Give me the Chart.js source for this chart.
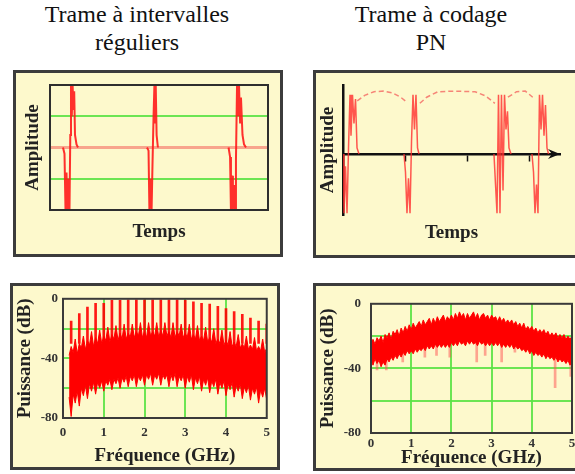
<!DOCTYPE html>
<html>
<head>
<meta charset="utf-8">
<script src="https://cdn.jsdelivr.net/npm/chart.js@4/dist/chart.umd.min.js"></script>
<style>
html, body { margin: 0; padding: 0; background: #fff; width: 575px; height: 474px; overflow: hidden; position: relative; }
.title { position: absolute; width: 260px; text-align: center; font-family: "Liberation Serif", "Times New Roman", "DejaVu Serif", serif; font-size: 24px; line-height: 28px; color: #111; }
.panel { position: absolute; box-sizing: border-box; background: #fdf9cc; border: 3px solid #3c3c3c; }
.panel canvas { position: absolute; left: 0; top: 0; }
</style>
</head>
<body>
<div class="title" style="left:7px; top:0px;">Trame à intervalles<br>réguliers</div>
<div class="title" style="left:301px; top:0px;">Trame à codage<br>PN</div>

<div class="panel" style="left:13px; top:70px; width:270px; height:187px;"><canvas id="tl" width="264" height="181"></canvas></div>
<div class="panel" style="left:313px; top:70px; width:306px; height:188px;"><canvas id="tr" width="300" height="182"></canvas></div>
<div class="panel" style="left:10px; top:283px; width:270px; height:187px;"><canvas id="bl" width="264" height="181"></canvas></div>
<div class="panel" style="left:313px; top:283px; width:306px; height:188px;"><canvas id="br" width="300" height="182"></canvas></div>

<script>
// ---- top left : regular pulse train (time domain) ----
var timeTL = [5.96, 6.65, 7.11, 7.57, 8.03, 8.49, 8.94, 9.31, 9.63, 10.0, 10.37, 10.73, 11.1, 11.47, 12.16, 12.84, 30,
  44.5, 45.2, 45.6, 46.1, 46.6, 47.0, 47.5, 47.9, 48.2, 48.5, 48.9, 49.5, 70,
  81.9, 82.6, 83.0, 83.5, 83.9, 84.4, 84.9, 85.3, 85.8, 86.2, 86.7, 87.2, 87.6, 88.3, 89.0, 89.9];
var ampTL = [0, -0.1, -1.0, -0.4, -1.0, -0.5, -1.0, 0.2, 1.0, 0.5, 1.0, 0.6, 0.9, 0.2, 0.05, 0, null,
  0, -0.05, -1.0, -0.5, -1.0, -0.3, 0.5, 1.0, 0.4, 1.0, 0.2, 0, null,
  0, -0.15, -1.0, -0.45, -1.0, -0.6, -1.0, -0.2, 1.0, 0.5, 1.0, 0.4, 0.8, 0.2, 0.05, 0];
var baseTimeTL = [0, 100];
var baseAmpTL = [0, 0];

// ---- top right : PN coded pulse train ----
var timeTR = [0, 0.016, 0.040, 0.065, 0.089, 0.113, 0.129, 0.153, 0.177, 0.202, 0.226, 0.258, 0.6,
  0.984, 1.008, 1.032, 1.056, 1.081, 1.105, 1.129, 1.153, 1.177, 1.202, 1.226, 1.8,
  2.435, 2.460, 2.484, 2.508, 2.532, 2.556, 2.581, 2.605, 2.629, 2.653, 2.677, 2.710, 2.9,
  3.048, 3.073, 3.097, 3.121, 3.145, 3.169, 3.194, 3.218, 3.242, 3.266, 3.290, 3.315];
var ampTR = [0, -0.97, -0.2, -0.97, 0.1, 0.97, 0.3, 0.97, 0.5, 0.9, 0.1, 0, null,
  0, -0.3, -0.97, -0.4, -0.97, 0.2, 0.97, 0.4, 0.97, 0.1, 0, null,
  0, -0.5, -0.97, 0.97, -0.97, 0.97, -0.6, 0.97, 0.4, 0.7, 0.1, 0, null,
  0, -0.3, -0.97, -0.5, -0.97, 0.97, 0.4, 0.97, 0.3, 0.8, 0.1, 0];
var arcTimeTR = [0.23, 0.35, 0.5, 0.65, 0.8, 0.93, 1.03, 1.1, 1.24, 1.35, 1.53, 1.8, 2.13, 2.3, 2.45, 2.55, 2.66, 2.8, 2.94, 3.06];
var arcAmpTR = [0.87, 0.96, 1.02, 1.03, 1.0, 0.93, 0.85, null, 0.83, 0.93, 1.02, 1.03, 1.02, 0.95, 0.83, null, 0.93, 1.02, 1.03, 0.93];
var timeTicksTR = [1, 2, 3];

// ---- bottom left : spectrum of regular train (GHz / dB) ----
var freqBL = [0.15, 0.2, 0.25, 0.3, 0.35, 0.4, 0.45, 0.5, 0.55, 0.6, 0.65, 0.7, 0.75, 0.8, 0.85, 0.9, 0.95,
  1.0, 1.05, 1.1, 1.15, 1.2, 1.25, 1.3, 1.35, 1.4, 1.45, 1.5, 1.55, 1.6, 1.65, 1.7, 1.75, 1.8, 1.85, 1.9, 1.95,
  2.0, 2.05, 2.1, 2.15, 2.2, 2.25, 2.3, 2.35, 2.4, 2.45, 2.5, 2.55, 2.6, 2.65, 2.7, 2.75, 2.8, 2.85, 2.9, 2.95,
  3.0, 3.05, 3.1, 3.15, 3.2, 3.25, 3.3, 3.35, 3.4, 3.45, 3.5, 3.55, 3.6, 3.65, 3.7, 3.75, 3.8, 3.85, 3.9, 3.95,
  4.0, 4.05, 4.1, 4.15, 4.2, 4.25, 4.3, 4.35, 4.4, 4.45, 4.5, 4.55, 4.6, 4.65, 4.7, 4.75, 4.8, 4.85, 4.9, 4.95, 5.0];
var topBL = [-38,
  -32, -36, -27, -37,  -30, -33, -25, -34,  -28, -31, -22, -32,  -26, -30, -21, -30,
  -25, -28, -19, -29,  -24, -27, -18, -28,  -23, -27, -17, -27,  -23, -26, -17, -26,  -22, -25, -16, -26,
  -22, -26, -16, -25,  -22, -25, -16, -26,  -21, -25, -16, -25,  -22, -26, -16, -26,  -22, -25, -17, -26,
  -23, -26, -17, -27,  -24, -27, -18, -28,  -25, -28, -19, -29,  -26, -29, -20, -30,  -27, -30, -21, -31,
  -28, -31, -22, -32,  -29, -32, -24, -33,  -30, -33, -25, -34,  -31, -34, -26, -35,  -32, -35, -27, -36,
  -33];
var botBL = [-66,
  -79, -64, -70, -62,  -72, -60, -65, -58,  -67, -57, -62, -56,  -64, -56, -60, -55,
  -62, -55, -58, -54,  -61, -54, -57, -53,  -60, -53, -56, -52,  -59, -52, -55, -51,  -59, -52, -55, -51,
  -58, -51, -54, -50,  -58, -51, -54, -50,  -58, -51, -54, -51,  -59, -51, -55, -50,  -59, -52, -55, -51,
  -60, -52, -56, -51,  -61, -53, -57, -52,  -62, -54, -58, -53,  -63, -55, -59, -54,  -64, -56, -60, -55,
  -65, -57, -61, -56,  -66, -58, -62, -57,  -67, -59, -63, -58,  -68, -60, -64, -59,  -70, -61, -66, -60,
  -68];
var spikeFreqBL = [0.2, 0.4, 0.6, 0.8, 1.0, 1.2, 1.4, 1.6, 1.8, 2.0, 2.2, 2.4, 2.6, 2.8, 3.0, 3.2, 3.4, 3.6, 3.8, 4.0, 4.2, 4.4, 4.6, 4.8, 5.0];
var spikeTopBL = [-15, -10, -5.5, -3, -3, -1, -1, 0, 0, 0, 0, 0, 0, 0, -1, -2, -3, -3.5, -5, -6.5, -8.5, -10.5, -13, -15, -17];
var spikeFloorBL = -30;

// ---- bottom right : spectrum of PN coded train ----
var freqBR = [0, 0.05, 0.1, 0.15, 0.2, 0.25, 0.3, 0.35, 0.4, 0.45, 0.5, 0.55, 0.6, 0.65, 0.7, 0.75, 0.8, 0.85, 0.9, 0.95,
  1.0, 1.05, 1.1, 1.15, 1.2, 1.25, 1.3, 1.35, 1.4, 1.45, 1.5, 1.55, 1.6, 1.65, 1.7, 1.75, 1.8, 1.85, 1.9, 1.95,
  2.0, 2.05, 2.1, 2.15, 2.2, 2.25, 2.3, 2.35, 2.4, 2.45, 2.5, 2.55, 2.6, 2.65, 2.7, 2.75, 2.8, 2.85, 2.9, 2.95,
  3.0, 3.05, 3.1, 3.15, 3.2, 3.25, 3.3, 3.35, 3.4, 3.45, 3.5, 3.55, 3.6, 3.65, 3.7, 3.75, 3.8, 3.85, 3.9, 3.95,
  4.0, 4.05, 4.1, 4.15, 4.2, 4.25, 4.3, 4.35, 4.4, 4.45, 4.5, 4.55, 4.6, 4.65, 4.7, 4.75, 4.8, 4.85, 4.9, 4.95, 5.0];
var topBR = [-24, -22, -25, -21, -23, -20, -24, -19, -21, -18, -22, -17, -19, -16, -20, -15, -18, -14, -17, -13,
  -16, -12, -15, -13, -11, -14, -10, -13, -11, -9, -13, -9, -12, -8, -11, -9, -7, -11, -8, -10,
  -7, -10, -6, -9, -5, -8, -6, -10, -6, -9, -7, -5, -9, -6, -10, -7, -6, -9, -7, -10,
  -7, -9, -8, -11, -8, -11, -9, -12, -10, -12, -10, -13, -11, -14, -12, -15, -12, -16, -14, -16,
  -14, -17, -15, -18, -16, -18, -16, -19, -17, -20, -18, -20, -18, -21, -19, -21, -19, -22, -20, -22, -20];
var botBR = [-35, -38, -34, -37, -35, -39, -36, -38, -34, -36, -33, -35, -32, -34, -31, -33, -30, -32, -29, -31,
  -29, -31, -28, -30, -28, -29, -27, -29, -26, -28, -26, -28, -25, -27, -25, -27, -25, -27, -25, -27,
  -24, -26, -24, -26, -23, -25, -24, -26, -23, -25, -23, -25, -24, -26, -23, -25, -24, -26, -24, -26,
  -24, -26, -24, -26, -24, -27, -25, -27, -25, -27, -25, -28, -26, -28, -27, -29, -28, -30, -28, -31,
  -29, -32, -30, -32, -31, -33, -31, -34, -32, -34, -33, -35, -33, -36, -34, -36, -35, -37, -35, -38, -36];
var dipFreqBR = [0.15, 0.38, 0.79, 1.34, 1.63, 1.96, 2.63, 2.84, 3.25, 3.58, 4.58, 4.97];
var dipLowBR = [-41, -41, -36, -33, -32, -33, -36, -32, -36, -30, -52, -45];
var dipTopBR = [-34, -34, -30, -26, -24, -23, -23, -22, -24, -26, -32, -35];

var dbTicks = [-80, -40, 0];
var dbGrid = [-20, -40, -60];
var ghzGrid = [1, 2, 3, 4];

Chart.defaults.font.family = "'Liberation Serif', 'Times New Roman', 'DejaVu Serif', serif";
Chart.defaults.color = '#222';
Chart.defaults.animation = false;
Chart.defaults.plugins.legend.display = false;
Chart.defaults.plugins.tooltip.enabled = false;

var GREEN = 'rgba(92,226,70,0.9)';
var RED = '#ff0000';

function pts(xs, ys) {
	var out = [];
	for (var i = 0; i < xs.length; i++) {
		out.push({ x: xs[i], y: ys[i] });
	}
	return out;
}

function floating(xs, lo, hi) {
	var out = [];
	for (var i = 0; i < xs.length; i++) {
		out.push({ x: xs[i], y: [Array.isArray(lo) ? lo[i] : lo, hi[i]] });
	}
	return out;
}

function fixW(w) { return function( s ) { s.width = w; }; }
function fixH(h) { return function( s ) { s.height = h; }; }

function onlyAt(values, color) {
	return function( c ) {
		return (c.tick && values.indexOf(c.tick.value) >= 0) ? color : 'rgba(0,0,0,0)';
	};
}

function axisTitle(text, pad) {
	return { display: true, text: text, color: '#222', padding: pad,
		font: { size: 19, weight: 'bold', lineHeight: 1 } };
}

// dark frame round the plot area
var framePlugin = {
	id: 'frame',
	afterDatasetsDraw: function( chart, args, opts ) {
		if (!opts.color) return;
		var a = chart.chartArea, ctx = chart.ctx;
		ctx.save();
		ctx.strokeStyle = opts.color;
		ctx.lineWidth = opts.width || 2;
		ctx.strokeRect(a.left, a.top, a.right - a.left, a.bottom - a.top);
		ctx.restore();
	}
};

// arrow head at the end of the time axis
var arrowPlugin = {
	id: 'arrow',
	afterDraw: function( chart, args, opts ) {
		if (!opts.show) return;
		var xs = chart.scales.x, ys = chart.scales.y, ctx = chart.ctx;
		var x = xs.getPixelForValue(xs.max), y = ys.getPixelForValue(0);
		ctx.save();
		ctx.fillStyle = '#111';
		ctx.beginPath();
		ctx.moveTo(x, y);
		ctx.lineTo(x - 12, y - 5);
		ctx.lineTo(x - 8, y);
		ctx.lineTo(x - 12, y + 5);
		ctx.closePath();
		ctx.fill();
		ctx.restore();
	}
};

var tickFont = { size: 13, weight: 'bold' };

// top left
new Chart(document.getElementById('tl'), {
	type: 'line',
	data: { datasets: [
		{ data: pts(timeTL, ampTL), borderColor: 'rgba(255,25,25,0.9)', borderWidth: 2, pointRadius: 0, spanGaps: false },
		{ data: pts(baseTimeTL, baseAmpTL), borderColor: 'rgba(247,150,128,0.85)', borderWidth: 3, pointRadius: 0 }
	]},
	options: {
		responsive: false,
		layout: { padding: { left: 0, top: 12, right: 12, bottom: 0 } },
		scales: {
			x: { type: 'linear', min: 0, max: 100, afterFit: fixH(44),
				ticks: { display: false }, grid: { display: false }, border: { display: false },
				title: axisTitle('Temps', { top: 0, bottom: 12.5 }) },
			y: { type: 'linear', min: -1, max: 1, afterFit: fixW(34),
				ticks: { display: false, stepSize: 0.5 },
				grid: { color: onlyAt([-0.5, 0.5], GREEN), lineWidth: 2, drawTicks: false },
				border: { display: false },
				title: axisTitle('Amplitude', { top: 7.5, bottom: 0 }) }
		},
		plugins: { frame: { color: '#2e2e2e', width: 2 } }
	},
	plugins: [framePlugin]
});

// top right
new Chart(document.getElementById('tr'), {
	type: 'line',
	data: { datasets: [
		{ data: pts(timeTR, ampTR), xAxisID: 'x', yAxisID: 'y', borderColor: 'rgba(255,45,45,0.8)', borderWidth: 1.5, pointRadius: 0 },
		{ data: pts(arcTimeTR, arcAmpTR), xAxisID: 'x', yAxisID: 'y', borderColor: 'rgba(245,120,110,0.9)', borderWidth: 1.5, borderDash: [5, 3], pointRadius: 0 }
	]},
	options: {
		responsive: false,
		layout: { padding: { left: 0, top: 12, right: 56, bottom: 0 } },
		scales: {
			x: { type: 'linear', min: 0, max: 3.5, position: { y: 0 }, afterFit: fixH(0),
				ticks: { display: false, stepSize: 1 },
				grid: { display: true, drawOnChartArea: false, drawTicks: true, tickLength: 6, tickWidth: 1.5,
					color: 'rgba(0,0,0,0)', tickColor: onlyAt(timeTicksTR, '#111') },
				border: { display: true, color: '#111', width: 2.5 } },
			xt: { type: 'linear', min: 0, max: 3.5, position: 'bottom', afterFit: fixH(40),
				ticks: { display: false }, grid: { display: false }, border: { display: false },
				title: axisTitle('Temps', { top: 0, bottom: 12.5 }) },
			y: { type: 'linear', min: -1, max: 1.13, position: 'left', afterFit: fixW(27),
				ticks: { display: false },
				grid: { display: true, drawOnChartArea: false, drawTicks: false },
				border: { display: true, color: '#111', width: 2.5 },
				title: axisTitle('Amplitude', { top: 3, bottom: 0 }) }
		},
		plugins: { arrow: { show: true } }
	},
	plugins: [arrowPlugin]
});

function spectrumScales(xH, xPad, xTitlePad, yW, yPad) {
	return {
		x: { type: 'linear', min: 0, max: 5, offset: false, afterFit: fixH(xH),
			ticks: { stepSize: 1, font: tickFont, color: '#333', padding: xPad, maxRotation: 0 },
			grid: { offset: false, color: onlyAt(ghzGrid, GREEN), lineWidth: 2, drawTicks: false },
			border: { display: false },
			title: axisTitle('Fréquence (GHz)', { top: 0, bottom: xTitlePad }) },
		y: { type: 'linear', min: -80, max: 0, afterFit: fixW(yW),
			ticks: { stepSize: 20, font: tickFont, color: '#333', padding: yPad,
				callback: function( v ) { return dbTicks.indexOf(v) >= 0 ? v : ''; } },
			grid: { color: onlyAt(dbGrid, GREEN), lineWidth: 2, drawTicks: false },
			border: { display: false },
			title: axisTitle('Puissance (dB)', { top: 2.5, bottom: 0 }) }
	};
}

// bottom left
new Chart(document.getElementById('bl'), {
	type: 'line',
	data: { datasets: [
		{ type: 'bar', data: floating(spikeFreqBL, spikeFloorBL, spikeTopBL), backgroundColor: 'rgba(255,0,0,0.9)', barThickness: 2 },
		{ data: pts(freqBL, topBL), borderColor: RED, backgroundColor: RED, borderWidth: 1, pointRadius: 0, fill: '+1' },
		{ data: pts(freqBL, botBL), borderColor: RED, borderWidth: 1, pointRadius: 0, fill: false }
	]},
	options: {
		responsive: false,
		layout: { padding: { left: 0, top: 11, right: 9, bottom: 0 } },
		scales: spectrumScales(49, 7, 1.5, 50, 5),
		plugins: { frame: { color: '#3a3a3a', width: 2 } }
	},
	plugins: [framePlugin]
});

// bottom right
new Chart(document.getElementById('br'), {
	type: 'line',
	data: { datasets: [
		{ data: pts(freqBR, topBR), borderColor: RED, backgroundColor: RED, borderWidth: 1, pointRadius: 0, fill: '+1' },
		{ data: pts(freqBR, botBR), borderColor: RED, borderWidth: 1, pointRadius: 0, fill: false },
		{ type: 'bar', data: floating(dipFreqBR, dipLowBR, dipTopBR), backgroundColor: 'rgba(255,80,80,0.5)', barThickness: 2 }
	]},
	options: {
		responsive: false,
		layout: { padding: { left: 0, top: 17, right: 44, bottom: 0 } },
		scales: spectrumScales(35, 3, 0.5, 55, 10),
		plugins: { frame: { color: '#3a3a3a', width: 2 } }
	},
	plugins: [framePlugin]
});
</script>
</body>
</html>
